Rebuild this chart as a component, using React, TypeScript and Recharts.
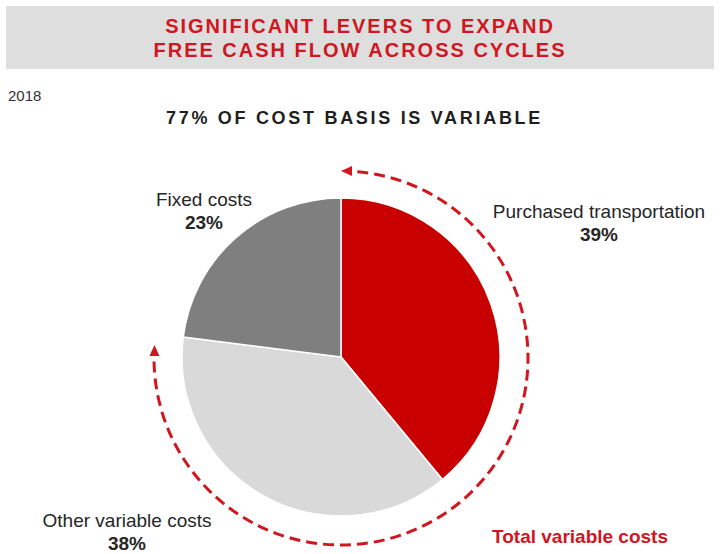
import { PieChart, Pie, Cell } from "recharts";

const SEGMENTS = ["Purchased transportation", "Other variable costs", "Fixed costs"];
const SHARES = [39, 38, 23];
const SEGMENT_COLORS = ["#c80000", "#d9d9d9", "#7f7f7f"];

const TITLE_LINES = ["SIGNIFICANT LEVERS TO EXPAND", "FREE CASH FLOW ACROSS CYCLES"];
const YEAR = "2018";
const SUBTITLE = "77% OF COST BASIS IS VARIABLE";
const BRACKET_LABEL = "Total variable costs";

const RED = "#d0161f";
const FONT = "'Liberation Sans', Arial, sans-serif";

const CX = 341;
const CY = 357;
const R = 159;

// where each slice's two-line label sits (same order as SEGMENTS)
const LABEL_POS = [
  { x: 599, y: 212 },
  { x: 127, y: 521 },
  { x: 204, y: 200 },
];

const chartData = SEGMENTS.map((name, i) => ({ name, value: SHARES[i] }));

function polar(deg: number, r: number) {
  const a = (deg * Math.PI) / 180;
  return { x: CX + r * Math.sin(a), y: CY + 1 - r * Math.cos(a) };
}

function DashedArc() {
  const r = 187;
  const a0 = polar(5, r);
  const a1 = polar(269, r);
  const tipTop = polar(0, r);
  const tipLeft = polar(274, r);
  return (
    <g>
      <path
        d={`M ${a0.x} ${a0.y} A ${r} ${r} 0 1 1 ${a1.x} ${a1.y}`}
        fill="none"
        stroke={RED}
        strokeWidth={3}
        strokeDasharray="11 6"
      />
      <polygon
        points={`${tipTop.x},${tipTop.y} ${tipTop.x + 11},${tipTop.y - 5} ${tipTop.x + 11},${tipTop.y + 5}`}
        fill={RED}
      />
      <polygon
        points={`${tipLeft.x},${tipLeft.y} ${tipLeft.x - 5},${tipLeft.y + 11} ${tipLeft.x + 5},${tipLeft.y + 11}`}
        fill={RED}
      />
      <text
        x={492}
        y={543}
        fill={RED}
        fontFamily={FONT}
        fontSize={19}
        fontWeight="bold"
      >
        {BRACKET_LABEL}
      </text>
    </g>
  );
}

const renderLabel = (props: any) => {
  const pos = LABEL_POS[props.index];
  return (
    <text
      x={pos.x}
      y={pos.y}
      textAnchor="middle"
      fontFamily={FONT}
      fill="#262626"
    >
      <tspan x={pos.x} dy={6} fontSize={19}>
        {props.name}
      </tspan>
      <tspan x={pos.x} dy={23} fontSize={19} fontWeight="bold">
        {props.value}%
      </tspan>
    </text>
  );
};

export default function App() {
  return (
    <div
      style={{
        position: "absolute",
        left: 0,
        top: 0,
        width: 721,
        height: 554,
        background: "#ffffff",
        fontFamily: FONT,
        overflow: "hidden",
      }}
    >
      <div
        style={{
          position: "absolute",
          left: 6,
          top: 6,
          width: 708,
          height: 63,
          background: "#dedede",
          display: "flex",
          flexDirection: "column",
          justifyContent: "center",
          alignItems: "center",
        }}
      >
        {TITLE_LINES.map((line) => (
          <div
            key={line}
            style={{
              color: RED,
              fontWeight: "bold",
              fontSize: 20,
              letterSpacing: 2,
              lineHeight: "24px",
            }}
          >
            {line}
          </div>
        ))}
      </div>
      <div
        style={{
          position: "absolute",
          left: 8,
          top: 87,
          fontSize: 15,
          color: "#333",
        }}
      >
        {YEAR}
      </div>
      <div
        style={{
          position: "absolute",
          left: 166,
          top: 108,
          fontSize: 18,
          fontWeight: "bold",
          letterSpacing: 2.7,
          color: "#1f1f1f",
          whiteSpace: "nowrap",
        }}
      >
        {SUBTITLE}
      </div>
      <div style={{ position: "absolute", left: 0, top: 0 }}>
        <PieChart
          width={721}
          height={554}
          margin={{ top: 0, right: 0, bottom: 0, left: 0 }}
        >
          <Pie
            data={chartData}
            dataKey="value"
            nameKey="name"
            cx={CX}
            cy={CY}
            outerRadius={R}
            startAngle={90}
            endAngle={-270}
            stroke="#ffffff"
            strokeWidth={1.5}
            label={renderLabel}
            labelLine={false}
            isAnimationActive={false}
          >
            {chartData.map((entry, i) => (
              <Cell key={entry.name} fill={SEGMENT_COLORS[i]} />
            ))}
          </Pie>
          <DashedArc />
        </PieChart>
      </div>
    </div>
  );
}
